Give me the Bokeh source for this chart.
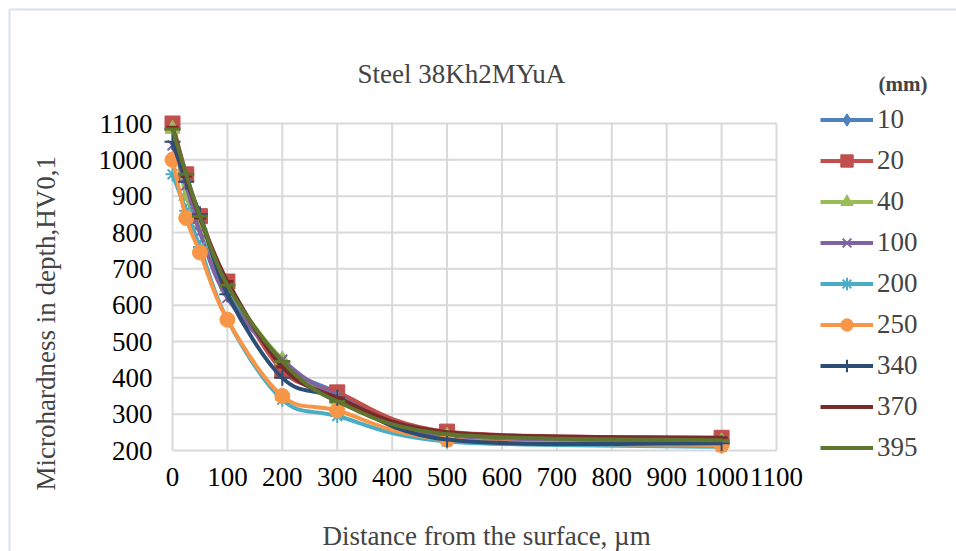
import math
from bokeh.plotting import figure
from bokeh.models import (ColumnDataSource, Legend, LegendItem, Label, BoxAnnotation,
                          Range1d)
from bokeh.core.properties import value
from bokeh.embed import file_html
from bokeh.resources import INLINE

# ---- data ----
depth = [0, 25, 50, 100, 200, 300, 500, 1000]
series_names = ["10", "20", "40", "100", "200", "250", "340", "370", "395"]
hv_10 = [1100, 950, 840, 640, 440, 360, 240, 225]
hv_20 = [1100, 960, 845, 665, 420, 360, 252, 235]
hv_40 = [1085, 900, 820, 650, 450, 340, 240, 225]
hv_100 = [1040, 930, 800, 620, 450, 350, 235, 225]
hv_200 = [960, 860, 760, 560, 340, 295, 225, 210]
hv_250 = [1000, 840, 745, 560, 350, 310, 230, 215]
hv_340 = [1050, 940, 850, 630, 400, 345, 230, 220]
hv_370 = [1090, 955, 840, 665, 430, 345, 250, 235]
hv_395 = [1085, 960, 845, 655, 445, 335, 245, 228]
all_hv = [hv_10, hv_20, hv_40, hv_100, hv_200, hv_250, hv_340, hv_370, hv_395]
x_ticks = list(range(0, 1200, 100))
y_ticks = list(range(200, 1200, 100))
x_min, x_max = 0, 1100
y_min, y_max = 200, 1100

colors = ["#4F81BD", "#C0504D", "#9BBB59", "#8064A2", "#4BACC6",
          "#F79646", "#2C4D75", "#772C2A", "#5F7530"]
markers = ["diamond", "square", "triangle", "x", "asterisk",
           "circle", "cross", "dash", "dash"]
msizes = [15, 15, 15, 14, 14, 15, 16, 12, 16]

FONT = "Liberation Serif"
W, H = 956, 551
# pixel box of the plotting area inside the canvas
PL, PR, PT, PB = 172, 776, 123, 450
sx = (PR - PL) / (x_max - x_min)
sy = (PB - PT) / (y_max - y_min)
xr = Range1d(x_min - PL / sx, x_max + (W - PR) / sx)
yr = Range1d(y_min - (H - PB) / sy, y_max + PT / sy)

p = figure(width=W, height=H, output_backend="svg", toolbar_location=None,
           x_range=xr, y_range=yr, x_axis_location=None, y_axis_location=None,
           min_border=0)
p.background_fill_color = "white"
p.border_fill_color = "white"
p.outline_line_color = None
p.grid.visible = False

# grid lines from the tick lists
p.segment(x0=x_ticks, x1=x_ticks, y0=[y_min] * len(x_ticks), y1=[y_max] * len(x_ticks),
          line_color="#d9d9d9", line_width=2)
p.segment(x0=[x_min] * len(y_ticks), x1=[x_max] * len(y_ticks), y0=y_ticks, y1=y_ticks,
          line_color="#d9d9d9", line_width=2)

# tick labels
p.text(x=[x_min] * len(y_ticks), y=y_ticks, text=[str(t) for t in y_ticks],
       x_offset=-20, text_align="right", text_baseline="middle",
       text_font=value(FONT), text_font_size="27px", text_color="black")
p.text(x=x_ticks, y=[y_min] * len(x_ticks), text=[str(t) for t in x_ticks],
       y_offset=17, text_align="center", text_baseline="top",
       text_font=value(FONT), text_font_size="27px", text_color="black")

def smooth_segments(xs, ys):
    n = len(xs)
    seg = dict(x0=[], y0=[], x1=[], y1=[], cx0=[], cy0=[], cx1=[], cy1=[])
    for i in range(n - 1):
        xm = xs[i - 1] if i > 0 else xs[i]
        ym = ys[i - 1] if i > 0 else ys[i]
        xp = xs[i + 2] if i + 2 < n else xs[i + 1]
        yp = ys[i + 2] if i + 2 < n else ys[i + 1]
        seg["x0"].append(xs[i]); seg["y0"].append(ys[i])
        seg["x1"].append(xs[i + 1]); seg["y1"].append(ys[i + 1])
        seg["cx0"].append(xs[i] + (xs[i + 1] - xm) / 6)
        seg["cy0"].append(ys[i] + (ys[i + 1] - ym) / 6)
        seg["cx1"].append(xs[i + 1] - (xp - xs[i]) / 6)
        seg["cy1"].append(ys[i + 1] - (yp - ys[i]) / 6)
    return seg

items = []
for name, vals, c, m, s in zip(series_names, all_hv, colors, markers, msizes):
    seg = ColumnDataSource(smooth_segments(depth, vals))
    r_line = p.bezier(x0="x0", y0="y0", x1="x1", y1="y1", cx0="cx0", cy0="cy0",
                      cx1="cx1", cy1="cy1", source=seg, line_color=c, line_width=4)
    pts = ColumnDataSource(dict(x=depth, y=vals))
    lw = 2 if m in ("x", "asterisk", "cross") else 1
    if m == "dash":
        lw = 3
    r_pts = p.scatter("x", "y", source=pts, marker=m, size=s, fill_color=c,
                      line_color=c, line_width=lw)
    items.append(LegendItem(label=name, renderers=[r_line, r_pts]))

legend = Legend(items=items, location=(820, 88), padding=0, margin=0,
                spacing=10, glyph_width=53, glyph_height=31, label_height=31,
                label_standoff=4, label_text_font=FONT,
                label_text_font_size="27px", border_line_color=None,
                background_fill_alpha=0)
p.add_layout(legend, "center")

# texts (screen units: pixels from the canvas' left / bottom)
p.add_layout(Label(x=878, y=H - 83, x_units="screen", y_units="screen",
                   text="(mm)", text_font=FONT, text_font_size="21px",
                   text_font_style="bold", text_baseline="middle"))
p.add_layout(Label(x=357, y=H - 73, x_units="screen", y_units="screen",
                   text="Steel 38Kh2MYuA", text_font=FONT, text_font_size="27px",
                   text_baseline="middle"))
p.add_layout(Label(x=322, y=H - 535, x_units="screen", y_units="screen",
                   text="Distance from the surface, µm", text_font=FONT,
                   text_font_size="27px", text_baseline="middle"))
p.add_layout(Label(x=45, y=H - 490, x_units="screen", y_units="screen",
                   text="Microhardness in depth,HV0,1", text_font=FONT,
                   text_font_size="27px", text_align="left",
                   text_baseline="middle", angle=math.pi / 2))
p.add_layout(BoxAnnotation(left=9, right=W + 20, top=H - 9, bottom=-20,
                           left_units="screen", right_units="screen",
                           top_units="screen", bottom_units="screen",
                           fill_alpha=0, line_color="#7f9ccf", line_width=2))

open("out.html", "w").write(file_html(p, INLINE))
